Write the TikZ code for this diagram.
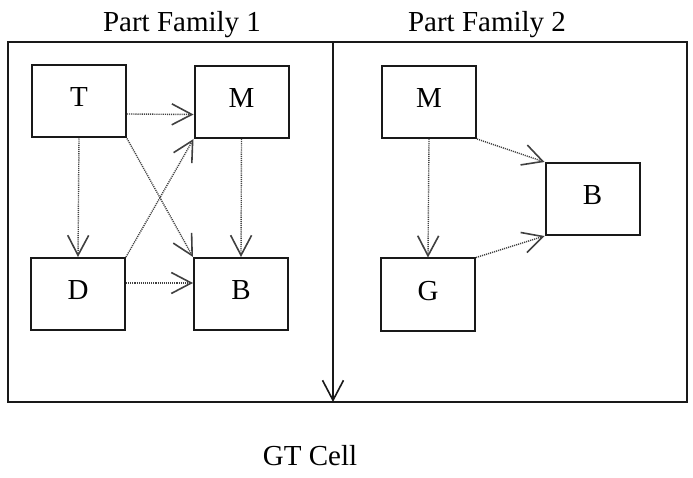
\documentclass[tikz,border=0pt]{standalone}
\usepackage{fontspec}
\setmainfont{Liberation Serif}
\usetikzlibrary{arrows.meta}
\begin{document}
\begin{tikzpicture}[x=1pt,y=-1pt,
  machine/.style={draw=black!90, line width=2pt, minimum width=94pt, minimum height=72pt,
    inner sep=0pt, text height=19pt, text depth=8pt, font=\fontsize{29}{34}\selectfont},
  label/.style={font=\fontsize{29}{34}\selectfont, inner sep=0pt, anchor=base},
  barb/.style={-{Straight Barb[length=20pt,width=21pt,line width=1.6pt]}},
  flow/.style={barb, draw=black!75, line width=1.4pt, dash pattern=on 1.1pt off 1pt},
  frame/.style={draw=black!90, line width=2.3pt}]
\useasboundingbox (0,0) rectangle (693,478);

% family titles and cell caption
\node[label] (title1) at (182,32) {Part Family 1};
\node[label] (title2) at (487,32) {Part Family 2};
\node[label] (cell) at (310,465) {GT Cell};

% cell frame and divider between the two families
\draw[frame] (8,42) rectangle (687,402);
\coordinate (divtop) at (333,42);
\coordinate (divbot) at (333,402);
\draw[frame, line width=2pt, barb] (divtop) -- (divbot);

% part family 1 machines
\node[machine] (T)  at (79,101.5) {T};
\node[machine] (M1) at (241.5,102) {M};
\node[machine] (D)  at (78,294) {D};
\node[machine] (B1) at (241,294) {B};

% part family 2 machines
\node[machine] (M2) at (429,102) {M};
\node[machine] (B2) at (592.5,199) {B};
\node[machine] (G)  at (428,294.5) {G};

% part flows, family 1
\draw[flow] ([yshift=-12.5pt]T.east) -- ([yshift=-12.5pt]M1.west);
\draw[flow] (T.south) -- (D.north);
\draw[flow] (M1.south) -- (B1.north);
\draw[flow] (T.south east) -- (B1.north west);
\draw[flow] (D.north east) -- (M1.south west);
\draw[flow] ([yshift=11pt]D.east) -- ([yshift=11pt]B1.west);

% part flows, family 2
\draw[flow] (M2.south) -- (G.north);
\draw[flow] (M2.south east) -- (B2.north west);
\draw[flow] (G.north east) -- (B2.south west);
\end{tikzpicture}
\end{document}
